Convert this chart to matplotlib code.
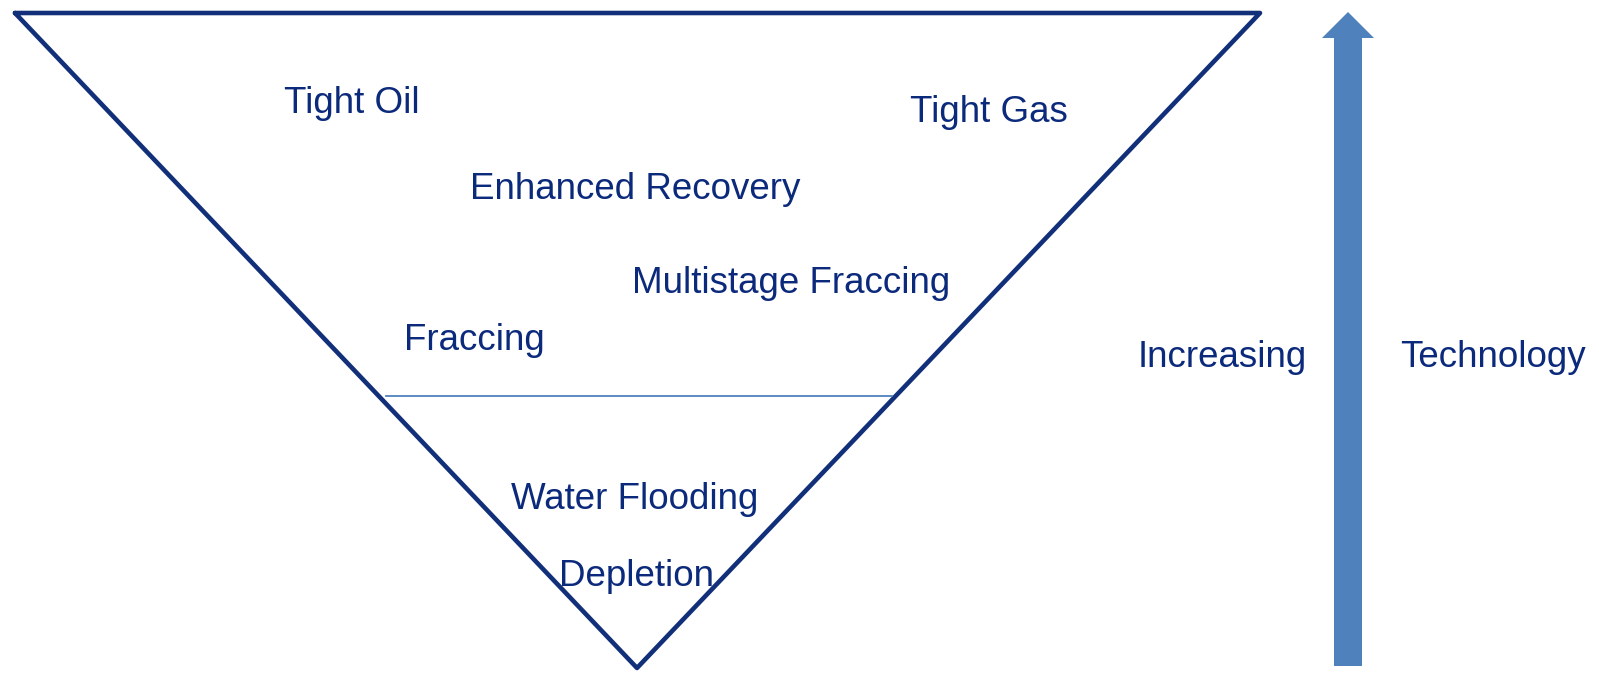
import matplotlib.pyplot as plt

plt.rcParams['font.family'] = ['Liberation Sans', 'DejaVu Sans']

# %%
labels = ["Tight Oil", "Tight Gas", "Enhanced Recovery", "Multistage Fraccing",
          "Fraccing", "Water Flooding", "Depletion"]
side_labels = ["Increasing", "Technology"]

# layout in pixel coords (y down)
label_x = [352, 989, 635, 791, 474, 635, 636]
label_y = [113, 122, 199, 293, 350, 509, 586]
side_x = [1222, 1493]
side_y = [367, 367]

tri_x = [15, 1260, 637, 15]
tri_y = [13, 13, 668, 13]
split_y = 396

navy = "#12307a"
text_c = "#0c2a7c"
light = "#4f81bd"

# %%
fig = plt.figure(figsize=(15.99, 6.75), dpi=100)
ax = fig.add_axes([0, 0, 1, 1])
ax.set_xlim(0, 1599)
ax.set_ylim(675, 0)
ax.axis("off")

ax.plot(tri_x, tri_y, color=navy, lw=3.3, solid_joinstyle="round", solid_capstyle="round")

# divider line between left and right edge of the triangle
t = (split_y - tri_y[0]) / (tri_y[2] - tri_y[0])
xl = tri_x[0] + t * (tri_x[2] - tri_x[0])
xr = tri_x[1] + t * (tri_x[2] - tri_x[1])
ax.plot([xl + 7, xr - 4], [split_y, split_y], color=light, lw=1.3)

for s, x, y in zip(labels, label_x, label_y):
    ax.text(x, y, s, ha="center", va="baseline", fontsize=26.5, color=text_c)

for s, x, y in zip(side_labels, side_x, side_y):
    ax.text(x, y, s, ha="center", va="baseline", fontsize=26.5, color=text_c)

ax.arrow(1348, 666, 0, -654, width=28, head_width=52, head_length=26,
         length_includes_head=True, color=light, lw=0)

fig.savefig("out.png", dpi=100)
